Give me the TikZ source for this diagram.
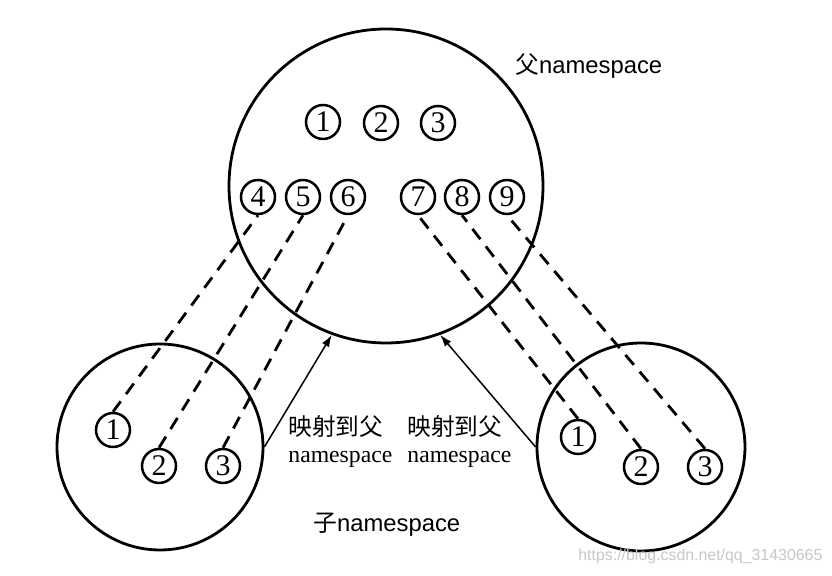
\documentclass[tikz,border=0pt]{standalone}
\usepackage{fontspec}
\setmainfont{Liberation Serif}
\newfontfamily\cjk{Noto Sans CJK SC}
\newfontfamily\sansf{Liberation Sans}
\usetikzlibrary{arrows.meta}
\begin{document}
\begin{tikzpicture}[x=0.5pt,y=-0.5pt,
  bigc/.style={draw, circle, line width=1.4pt, inner sep=0pt},
  num/.style={draw, circle, line width=1.25pt, minimum size=17pt, inner sep=0pt, font=\fontsize{15}{15}\selectfont},
  link/.style={line width=1.4pt, dash pattern=on 6.5pt off 4.5pt},
  maparrow/.style={line width=0.75pt, -{Latex[length=6pt,width=4pt]}},
  lbl/.style={font=\fontsize{11.85}{13.5}\selectfont, align=left, anchor=west, inner sep=0pt},
  title/.style={font=\sansf\fontsize{11.9}{14}\selectfont, anchor=west, inner sep=0pt},
  wmark/.style={font=\sansf\fontsize{7.95}{9}\selectfont, text=black!22, anchor=west, inner sep=0pt}]
\useasboundingbox (0,0) rectangle (832,576);
% namespaces
\node[bigc, minimum size=157pt] (P) at (386,186) {};
\node[bigc, minimum size=103pt] (L) at (160,447) {};
\node[bigc, minimum size=104pt] (R) at (641,447) {};
% parent processes
\node[num] (p1) at (323,122) {1};
\node[num] (p2) at (381,123) {2};
\node[num] (p3) at (438,123) {3};
\node[num] (p4) at (258,197) {4};
\node[num] (p5) at (303,197) {5};
\node[num] (p6) at (348,197) {6};
\node[num] (p7) at (418,197) {7};
\node[num] (p8) at (462,197) {8};
\node[num] (p9) at (507,197) {9};
% left child processes
\node[num] (l1) at (113,430) {1};
\node[num] (l2) at (159,466) {2};
\node[num] (l3) at (223,466) {3};
% right child processes
\node[num] (r1) at (578,437) {1};
\node[num] (r2) at (641,467) {2};
\node[num] (r3) at (705,467) {3};
% mappings
\draw[link] (l1.north) -- (p4.south);
\draw[link] (l2.north) -- (p5.south);
\draw[link] (l3.north) -- (p6.south);
\draw[link] (r1.north) -- (p7.south);
\draw[link] (r2.north) -- (p8.south);
\draw[link] (r3.north) -- (p9.south);
\draw[maparrow] (L.east) -- (P.-110);
\draw[maparrow] (R.west) -- (P.-70);
% labels
\node[lbl] (tl) at (288,441.5) {{\cjk 映射到父}\\namespace};
\node[lbl] (tr) at (407,441.5) {{\cjk 映射到父}\\namespace};
\node[title] (tp) at (515,66) {{\cjk 父}namespace};
\node[title] (tc) at (313,525) {{\cjk 子}namespace};
\node[wmark] (wm) at (578,556) {https://blog.csdn.net/qq\_31430665};
\end{tikzpicture}
\end{document}
